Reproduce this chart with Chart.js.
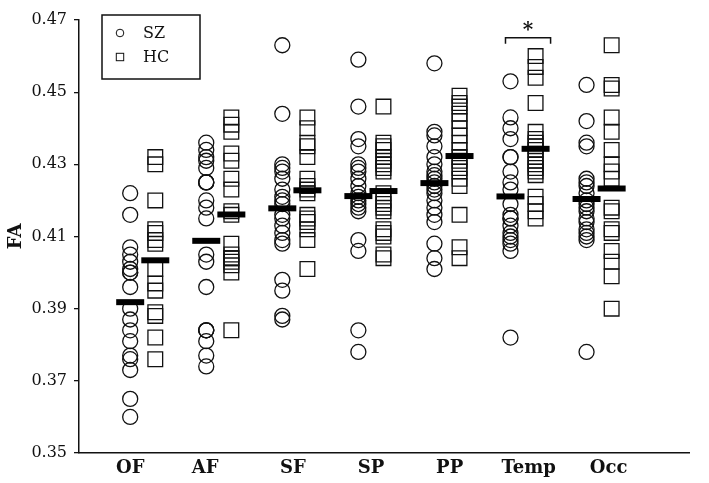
<!DOCTYPE html>
<html>
<head>
<meta charset="utf-8">
<script src="https://cdn.jsdelivr.net/npm/chart.js@4/dist/chart.umd.min.js"></script>
<style>
  html, body { margin: 0; padding: 0; background: #fff; }
  #wrap { width: 709px; height: 483px; }
</style>
</head>
<body>
<div id="wrap"><canvas id="fa-chart" width="709" height="483"></canvas></div>
<script>
// regions along the x axis, and where each name sits (in region index units)
const regions = ['OF', 'AF', 'SF', 'SP', 'PP', 'Temp', 'Occ'];
const regionTickAt = [0.0, 0.985, 2.14, 3.165, 4.2, 5.24, 6.29];
const groups = ['SZ', 'HC'];
const yTicks = [0.35, 0.37, 0.39, 0.41, 0.43, 0.45, 0.47];

// FA per subject, SZ group
const szOF = [0.422, 0.416, 0.407, 0.405, 0.403, 0.401, 0.400, 0.400, 0.396, 0.390, 0.387, 0.384, 0.381, 0.377, 0.376, 0.373, 0.365, 0.360];
const szAF = [0.436, 0.434, 0.432, 0.431, 0.429, 0.425, 0.425, 0.425, 0.420, 0.418, 0.415, 0.405, 0.403, 0.396, 0.384, 0.384, 0.384, 0.381, 0.377, 0.374];
const szSF = [0.463, 0.444, 0.430, 0.429, 0.428, 0.426, 0.423, 0.421, 0.420, 0.419, 0.416, 0.415, 0.413, 0.411, 0.409, 0.408, 0.398, 0.395, 0.388, 0.387];
const szSP = [0.459, 0.446, 0.437, 0.435, 0.430, 0.429, 0.428, 0.426, 0.424, 0.422, 0.421, 0.420, 0.419, 0.418, 0.417, 0.409, 0.406, 0.384, 0.378];
const szPP = [0.458, 0.439, 0.438, 0.435, 0.432, 0.430, 0.428, 0.427, 0.426, 0.425, 0.424, 0.423, 0.422, 0.420, 0.418, 0.416, 0.414, 0.408, 0.404, 0.401];
const szTemp = [0.453, 0.443, 0.440, 0.437, 0.432, 0.432, 0.428, 0.425, 0.423, 0.419, 0.416, 0.415, 0.415, 0.413, 0.411, 0.410, 0.409, 0.408, 0.406, 0.382];
const szOcc = [0.452, 0.442, 0.436, 0.435, 0.426, 0.425, 0.424, 0.422, 0.420, 0.419, 0.418, 0.417, 0.415, 0.414, 0.412, 0.411, 0.410, 0.409, 0.378];

// FA per subject, HC group
const hcOF = [0.432, 0.430, 0.420, 0.412, 0.411, 0.409, 0.408, 0.401, 0.397, 0.395, 0.389, 0.388, 0.382, 0.376];
const hcAF = [0.443, 0.441, 0.439, 0.433, 0.431, 0.426, 0.423, 0.417, 0.416, 0.408, 0.405, 0.404, 0.404, 0.403, 0.402, 0.400, 0.384];
const hcSF = [0.443, 0.440, 0.436, 0.435, 0.432, 0.426, 0.424, 0.423, 0.422, 0.416, 0.415, 0.414, 0.412, 0.409, 0.401];
const hcSP = [0.446, 0.436, 0.435, 0.434, 0.432, 0.431, 0.430, 0.429, 0.428, 0.422, 0.420, 0.419, 0.418, 0.417, 0.412, 0.411, 0.410, 0.405, 0.404];
const hcPP = [0.449, 0.447, 0.446, 0.444, 0.442, 0.440, 0.438, 0.436, 0.434, 0.432, 0.431, 0.429, 0.428, 0.426, 0.424, 0.416, 0.407, 0.404];
const hcTemp = [0.460, 0.457, 0.454, 0.447, 0.439, 0.437, 0.436, 0.435, 0.434, 0.432, 0.431, 0.430, 0.429, 0.428, 0.427, 0.421, 0.419, 0.417, 0.415];
const hcOcc = [0.463, 0.452, 0.451, 0.443, 0.439, 0.434, 0.430, 0.428, 0.426, 0.418, 0.417, 0.412, 0.411, 0.406, 0.403, 0.399, 0.390];

// group means (black bars)
const szMean = [0.3918, 0.4088, 0.4178, 0.4212, 0.4248, 0.4211, 0.4204];
const hcMean = [0.4034, 0.4161, 0.4228, 0.4226, 0.4323, 0.4343, 0.4233];

// significant difference
const sigRegion = 'Temp';
const sigMark = '*';

const szAll = [szOF, szAF, szSF, szSP, szPP, szTemp, szOcc];
const hcAll = [hcOF, hcAF, hcSF, hcSP, hcPP, hcTemp, hcOcc];
const HC_SHIFT = 0.33;
const INK = '#111';
const FONT = "'DejaVu Serif', 'Liberation Serif', serif";

function toPoints(lists, shift) {
    const pts = [];
    lists.forEach((vals, i) => vals.forEach(v => pts.push({ x: i + shift, y: v })));
    return pts;
}

function meanPoints(vals, shift) {
    return vals.map((v, i) => ({ x: i + shift, y: v }));
}

const extras = {
    id: 'extras',
    afterDraw(chart) {
        const ctx = chart.ctx;
        const xs = chart.scales.x;
        const ys = chart.scales.y;
        ctx.save();

        // legend box
        ctx.strokeStyle = INK;
        ctx.lineWidth = 1.5;
        ctx.strokeRect(102, 15, 98, 64);
        ctx.lineWidth = 1;
        ctx.beginPath();
        ctx.arc(120, 33, 3.8, 0, Math.PI * 2);
        ctx.stroke();
        ctx.strokeRect(116.3, 53.3, 7.4, 7.4);
        ctx.fillStyle = INK;
        ctx.font = '16px ' + FONT;
        ctx.textBaseline = 'middle';
        ctx.textAlign = 'left';
        ctx.fillText(chart.data.datasets[0].label, 143, 34);
        ctx.fillText(chart.data.datasets[1].label, 143, 58);

        // significance bracket
        const k = regions.indexOf(sigRegion);
        const x1 = xs.getPixelForValue(k) - 5;
        const x2 = xs.getPixelForValue(k + HC_SHIFT) + 15;
        const yTop = ys.getPixelForValue(0.4651);
        const yEnd = ys.getPixelForValue(0.4634);
        ctx.lineWidth = 1.5;
        ctx.beginPath();
        ctx.moveTo(x1, yEnd);
        ctx.lineTo(x1, yTop);
        ctx.lineTo(x2, yTop);
        ctx.lineTo(x2, yEnd);
        ctx.stroke();
        ctx.font = 'bold 20px ' + FONT;
        ctx.textAlign = 'center';
        ctx.fillText(sigMark, (x1 + x2) / 2, yTop - 7);
        ctx.restore();
    }
};

new Chart(document.getElementById('fa-chart'), {
    type: 'scatter',
    data: {
        datasets: [
            {
                label: groups[0],
                data: toPoints(szAll, 0),
                pointStyle: 'circle',
                pointRadius: 7.5,
                pointBorderWidth: 1.3,
                pointBorderColor: INK,
                pointBackgroundColor: 'rgba(0,0,0,0)',
                order: 2,
                clip: false
            },
            {
                label: groups[1],
                data: toPoints(hcAll, HC_SHIFT),
                pointStyle: 'rect',
                pointRadius: 10.4,
                pointBorderWidth: 1.3,
                pointBorderColor: INK,
                pointBackgroundColor: 'rgba(0,0,0,0)',
                order: 2,
                clip: false
            },
            {
                label: 'SZ mean',
                data: meanPoints(szMean, 0),
                pointStyle: 'line',
                pointRadius: 14,
                pointBorderWidth: 6,
                pointBorderColor: '#000',
                order: 0,
                clip: false
            },
            {
                label: 'HC mean',
                data: meanPoints(hcMean, HC_SHIFT),
                pointStyle: 'line',
                pointRadius: 14,
                pointBorderWidth: 6,
                pointBorderColor: '#000',
                order: 0,
                clip: false
            }
        ]
    },
    options: {
        responsive: false,
        animation: false,
        events: [],
        layout: { padding: { top: 6, right: 2, left: 0, bottom: 0 } },
        plugins: {
            legend: { display: false },
            tooltip: { enabled: false }
        },
        scales: {
            x: {
                type: 'linear',
                min: -0.673,
                max: 7.347,
                grid: { display: false, drawTicks: false },
                border: { display: true, color: INK, width: 1.5 },
                afterBuildTicks: scale => {
                    scale.ticks = regionTickAt.map(v => ({ value: v }));
                },
                afterFit: scale => {
                    scale.height = 30;
                    scale.paddingLeft = 0;
                    scale.paddingRight = 0;
                },
                ticks: {
                    autoSkip: false,
                    maxRotation: 0,
                    padding: 5,
                    color: INK,
                    font: { family: FONT, size: 18, weight: 'bold' },
                    callback: (value, index) => regions[index]
                }
            },
            y: {
                min: 0.35,
                max: 0.47,
                grid: { drawOnChartArea: false, drawTicks: true, tickLength: 5, color: INK, lineWidth: 1.3 },
                border: { display: true, color: INK, width: 1.5 },
                afterBuildTicks: scale => {
                    scale.ticks = yTicks.map(v => ({ value: v }));
                },
                afterFit: scale => {
                    scale.width = 79;
                    scale.paddingTop = 0;
                    scale.paddingBottom = 0;
                },
                title: {
                    display: true,
                    text: 'FA',
                    color: INK,
                    font: { family: FONT, size: 18, weight: 'bold' },
                    padding: { top: 6, bottom: 0 }
                },
                ticks: {
                    padding: 7,
                    color: INK,
                    font: { family: FONT, size: 16 },
                    callback: value => value.toFixed(2)
                }
            }
        }
    },
    plugins: [extras]
});
</script>
</body>
</html>
